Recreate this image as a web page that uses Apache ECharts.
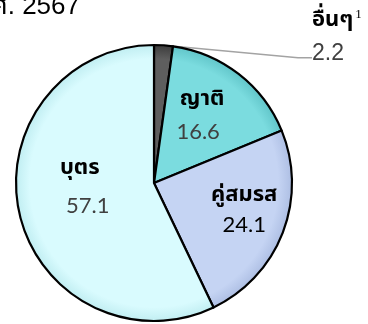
<!DOCTYPE html>
<html>
<head>
<meta charset="utf-8">
<script src="https://cdn.jsdelivr.net/npm/echarts@6/dist/echarts.min.js"></script>
<style>
  html, body { margin: 0; padding: 0; background: #ffffff; }
  #chart { width: 368px; height: 324px; }
</style>
</head>
<body>
<div id="chart"></div>
<script>
// Share of recipients (%), clockwise from 12 o'clock
const categories = ['อื่นๆ', 'ญาติ', 'คู่สมรส', 'บุตร'];
const shares = [2.2, 16.6, 24.1, 57.1];
const yearLabel = 'พ.ศ. 2567';
const footnoteMark = '1';

const sliceFill = ['#5e5e5e', '#7bdcdf', '#c5d4f3', '#d9fbfe'];
const sliceEdge = ['#3c3c3c', '#62c6ca', '#aebfe4', '#c1eef2'];
const valueColor = ['#404040', '#404040', '#000000', '#404040'];

const PIE_X = 154, PIE_Y = 183, PIE_R = 138;
const thaiFont = 'Tahoma, "Noto Sans Thai", "Noto Sans", "DejaVu Sans", sans-serif';
const numFont = 'Lato, "Liberation Sans", sans-serif';

// label fine-tuning for the inside labels
const nudges = [
  null,
  { dx: 0, dy: -10 },
  { dx: 23, dy: 2 },
  { dx: -4, dy: -11 }
];
const lineGap = [32, 31, 28, 36];

function bevel(i) {
  return {
    type: 'radial', x: PIE_X, y: PIE_Y, r: PIE_R, global: true,
    colorStops: [
      { offset: 0, color: sliceFill[i] },
      { offset: 0.9, color: sliceFill[i] },
      { offset: 1, color: sliceEdge[i] }
    ]
  };
}

const data = categories.map((name, i) => {
  const item = {
    name: name,
    value: shares[i],
    itemStyle: { color: bevel(i) }
  };
  if (i === 0) {
    item.label = {
      show: true,
      position: 'outside',
      align: 'left',
      // a blank trailing line keeps the guide line's elbow level with the value
      formatter: p => '{n|' + p.name + '}{s|' + footnoteMark + '}\n{v|' + p.value.toFixed(1) + '}\n{e| }',
      rich: {
        n: { fontFamily: thaiFont, fontWeight: 'bold', fontSize: 22, color: '#000', lineHeight: lineGap[0] },
        s: { fontFamily: '"Liberation Serif", serif', fontSize: 13, color: '#000', padding: [0, 0, 14, 2], lineHeight: lineGap[0] },
        v: { fontFamily: '"Liberation Sans", sans-serif', fontSize: 23, color: valueColor[0], lineHeight: lineGap[0] },
        e: { fontSize: 10, lineHeight: 64 }
      }
    };
    item.labelLine = { show: true, length2: 14, lineStyle: { color: '#a3a3a3', width: 1.5 } };
  } else {
    const padName = i === 1 ? [0, 0, 0, 8] : 0;
    const padVal = i === 3 ? [0, 0, 0, 16] : 0;
    item.label = {
      show: true,
      position: 'inside',
      formatter: p => '{n|' + p.name + '}\n{v|' + p.value.toFixed(1) + '}',
      rich: {
        n: { fontFamily: thaiFont, fontWeight: 'bold', fontSize: 22, color: '#000', lineHeight: lineGap[i], padding: padName },
        v: { fontFamily: numFont, fontSize: 22, color: valueColor[i], lineHeight: lineGap[i], padding: padVal }
      }
    };
    item.labelLine = { show: false };
  }
  return item;
});

const chart = echarts.init(document.getElementById('chart'), null, { renderer: 'canvas' });
chart.setOption({
  animation: false,
  backgroundColor: '#ffffff',
  graphic: [{
    type: 'text',
    x: 80, y: 7,
    style: {
      text: yearLabel,
      align: 'right',
      verticalAlign: 'middle',
      font: '26px "Liberation Sans", Tahoma, "Noto Sans Thai", sans-serif',
      fill: '#000'
    }
  }],
  series: [{
    type: 'pie',
    center: [PIE_X, PIE_Y],
    radius: PIE_R,
    startAngle: 90,
    clockwise: true,
    avoidLabelOverlap: false,
    itemStyle: { borderColor: '#000', borderWidth: 2.2 },
    emphasis: { disabled: true },
    labelLayout: function (p) {
      if (p.dataIndex === 0) {
        return { x: 312, y: 6, align: 'left', verticalAlign: 'top' };
      }
      return nudges[p.dataIndex];
    },
    data: data
  }]
});
</script>
</body>
</html>
